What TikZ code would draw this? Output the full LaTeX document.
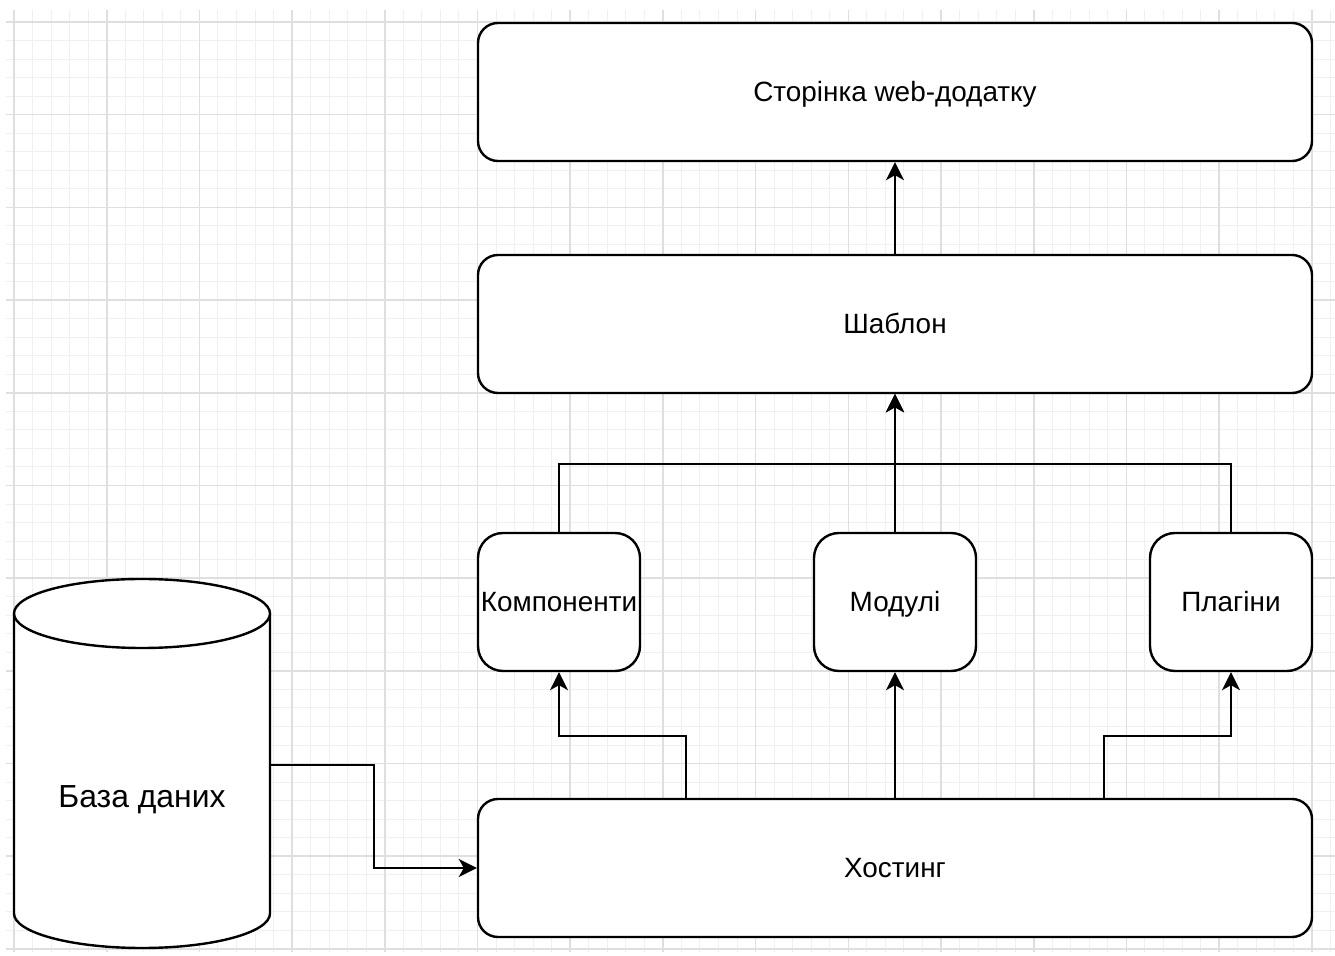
\documentclass[tikz,border=0pt]{standalone}
\usepackage{fontspec}
\setmainfont{Liberation Sans}
\usepackage{tikz}
\usetikzlibrary{arrows.meta}
\definecolor{gridmajor}{HTML}{DFDFDF}
\definecolor{gridminor}{HTML}{F0F0F0}

\begin{document}
\begin{tikzpicture}[>={Stealth[length=18bp,width=18bp,inset=5bp]},line join=miter,
  block/.style={draw,rounded corners=20bp,line width=2.4bp,fill=white,inner sep=0pt,
    minimum width=834bp,minimum height=138bp,text height=20bp,text depth=0pt,
    font=\fontsize{28}{32}\selectfont},
  smallblock/.style={block,rounded corners=25bp,minimum width=162bp},
  link/.style={->,line width=2.4bp}]
\useasboundingbox [fill=white] (0bp,0bp) rectangle (1335bp,956bp);
%% grid
\foreach \i in {0,...,71}
  \draw [gridminor,line width=1bp] ({14bp+18.54bp*\i},4bp) -- ({14bp+18.54bp*\i},946bp);
\foreach \j in {0,...,50}
  \draw [gridminor,line width=1bp] (6bp,{934bp-18.54bp*\j}) -- (1335bp,{934bp-18.54bp*\j});
\foreach \i in {0,...,14}
  \draw [gridmajor,line width=1.6bp] ({14bp+92.7bp*\i},4bp) -- ({14bp+92.7bp*\i},946bp);
\foreach \j in {0,...,10}
  \draw [gridmajor,line width=1.6bp] (6bp,{934bp-92.7bp*\j}) -- (1335bp,{934bp-92.7bp*\j});
%%
\node (page) at (895.0bp,864.0bp) [block] {Сторінка web-додатку};
  \node (tmpl) at (895.0bp,632.0bp) [block] {Шаблон};
  \node (comp) at (559.0bp,354.0bp) [smallblock] {Компоненти};
  \node (mod) at (895.0bp,354.0bp) [smallblock] {Модулі};
  \node (plug) at (1231.0bp,354.0bp) [smallblock] {Плагіни};
  \node (host) at (895.0bp,88.0bp) [block] {Хостинг};
%% database
\node (db) at (142.0bp,191.0bp) [inner sep=0pt,minimum width=256bp,minimum height=369bp] {};
  \draw [line width=2.4bp,fill=white] (14bp,342.5bp) -- (14bp,42.5bp)
    arc [start angle=180,end angle=360,x radius=128bp,y radius=34.5bp] -- (270bp,342.5bp);
  \draw [line width=2.4bp,fill=white] (142bp,342.5bp) ellipse [x radius=128bp,y radius=34.5bp];
  \node at ([yshift=-31bp]db.center) [inner sep=0pt,text height=23bp,text depth=0pt,
    font=\fontsize{32}{38}\selectfont] {База даних};
%% links
  \draw [link] (db.east) -- ++(104bp,0) |- (host.west);
  \draw [link] ([xshift=-209bp]host.north) |- ([yshift=-64bp]comp.south) -- (comp.south);
  \draw [link] (host.north) -- (mod.south);
  \draw [link] ([xshift=209bp]host.north) |- ([yshift=-64bp]plug.south) -- (plug.south);
  \draw [link] (comp.north) |- ([yshift=-70bp]tmpl.south) -- (tmpl.south);
  \draw [link] (mod.north) -- (tmpl.south);
  \draw [link] (plug.north) |- ([yshift=-70bp]tmpl.south) -- (tmpl.south);
  \draw [link] (tmpl.north) -- (page.south);
%
\end{tikzpicture}
\end{document}
